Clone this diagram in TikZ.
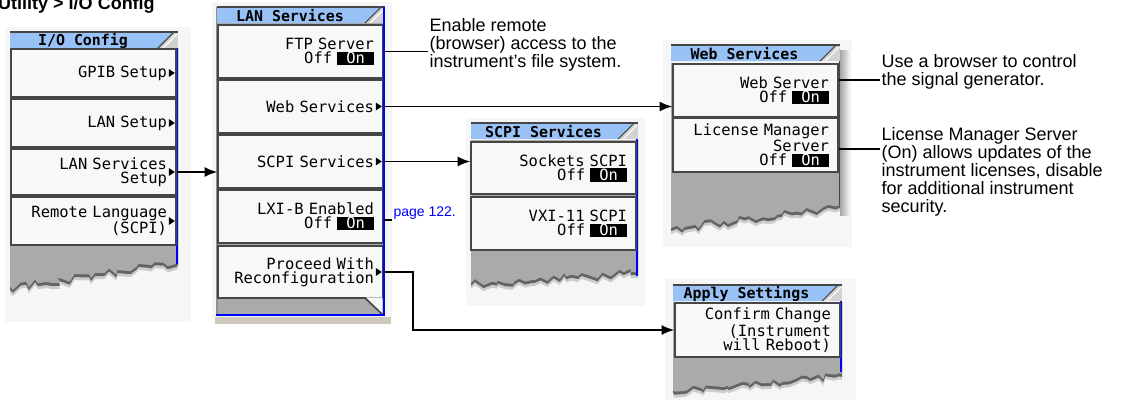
\documentclass[tikz,border=0pt]{standalone}
\usepackage{fontspec}
\setmainfont{Liberation Sans}
\newfontfamily\keymono{DejaVu Sans Mono}
\usepackage{tikz}
\usetikzlibrary{arrows.meta}
\usetikzlibrary{calc, decorations.pathmorphing}

\definecolor{titleblue}{RGB}{152,193,245}
\definecolor{titlegray}{RGB}{210,210,210}
\definecolor{frameblue}{RGB}{0,0,255}
\definecolor{keyfill}{RGB}{248,248,248}
\definecolor{keyline}{RGB}{70,70,70}
\definecolor{areagray}{RGB}{170,170,170}
\definecolor{tornshade}{RGB}{100,100,100}
\definecolor{panelbg}{RGB}{246,246,246}
\definecolor{barbeige}{RGB}{205,200,188}
\definecolor{linkblue}{RGB}{0,0,255}

\newcommand{\keyfont}{\keymono\fontsize{11.6}{10.5}\selectfont}
\newcommand{\titlefont}{\keymono\bfseries\fontsize{11.2}{12}\selectfont}
\newcommand{\notefont}{\fontsize{13.5}{13.6}\selectfont}
\newcommand{\onkey}{{\setlength{\fboxsep}{0pt}\colorbox{black}{\rule[-1.2pt]{0pt}{9.9pt}\makebox[27.5pt]{\textcolor{white}{On}}}}}

\tikzset{
  softkey/.style={draw=keyline, fill=keyfill, line width=1.2pt, minimum width=123.75pt,
    text width=110.25pt, align=right, inner xsep=6.75pt, inner ysep=0pt, font=\keyfont},
  titlelabel/.style={inner sep=0pt, font=\titlefont},
  note/.style={anchor=west, align=left, inner sep=1pt, font=\notefont},
  conn/.style={line width=1.1pt, -{Latex[length=9.5pt,width=7.5pt]}},
  callout/.style={line width=1.1pt},
  bluebar/.style={draw=frameblue, line width=1.6pt},
  torn/.style={decoration={random steps, segment length=4pt, amplitude=3pt}},
}

% title tab of a menu: name, left, right, top, text
\newcommand{\menutitle}[5]{%
  \fill[titlegray] (#2,#4) rectangle (#3,#4+16);
  \fill[titleblue] (#2,#4) -- (#3-4,#4) -- (#3-20,#4+16) -- (#2,#4+16) -- cycle;
  \draw[keyline, line width=0.8pt] (#3-4,#4) -- (#3-20,#4+16);
  \draw[white, line width=0.8pt] (#3-1,#4+2) -- (#3-15,#4+16);
  \draw[keyline, line width=0.8pt] (#2,#4) -- (#3,#4);
  \node[titlelabel] (#1) at ({(#2+#3-22)/2},#4+8.5) {#5};
}
% torn grey screen area: left, right, top, left end, right end, seed
\newcommand{\tornarea}[6]{%
  \pgfmathsetseed{#6}
  \fill[gray!40, torn] (#1,#3) -- (#2,#3) -- (#2,#5+6) decorate {-- (#1,#4+6)} -- cycle;
  \pgfmathsetseed{#6}
  \fill[tornshade, torn] (#1,#3) -- (#2,#3) -- (#2,#5+3) decorate {-- (#1,#4+3)} -- cycle;
  \pgfmathsetseed{#6}
  \fill[areagray, torn] (#1,#3) -- (#2,#3) -- (#2,#5) decorate {-- (#1,#4)} -- cycle;
}
% submenu triangle on a softkey
\newcommand{\softarrow}[1]{%
  \fill ([xshift=-6pt,yshift=3pt]#1.east) -- ([xshift=-1.5pt]#1.east) -- ([xshift=-6pt,yshift=-3pt]#1.east) -- cycle;
}

\begin{document}
\begin{tikzpicture}[x=0.75pt, y=-0.75pt]
  \useasboundingbox (0,0) rectangle (1121,400);
  \node[anchor=base east, inner sep=0pt, font=\bfseries\fontsize{13.5}{14}\selectfont] (menupath) at (155,9) {Utility > I/O Config};

  % I/O Config menu
  \fill[panelbg] (5,27) rectangle (191,322); % screen background
  \tornarea{10}{178}{48}{287}{262}{3}
  \draw[bluebar] (177,32) -- (177,264);
  \menutitle{iotitle}{10}{178}{32}{I/O Config}
  \node[softkey, minimum height=36pt] (gpib) at (93.5,73) {GPIB Setup};
  \node[softkey, minimum height=36pt] (lanset) at (93.5,123) {LAN Setup};
  \node[softkey, minimum height=34.5pt] (svcset) at (93.5,172) {LAN Services\\Setup};
  \node[softkey, minimum height=36pt] (remote) at (93.5,221) {Remote Language\\(SCPI)};
  \softarrow{gpib} \softarrow{lanset} \softarrow{svcset} \softarrow{remote}

  % LAN Services menu
  \fill[panelbg] (212,2) rectangle (392,318);
  \fill[barbeige] (215,317) rectangle (391,324);
  \fill[areagray] (217,23) rectangle (384,315);
  \draw[keyline!60, line width=1pt] (217,7) -- (217,315);
  \menutitle{lantitle}{217}{385}{7}{LAN Services}
  \node[softkey, minimum height=39.75pt] (ftp) at (300.5,51.5) {FTP Server\\Off \onkey};
  \node[softkey, minimum height=39.75pt] (websvc) at (300.5,106.5) {Web Services};
  \node[softkey, minimum height=39.75pt] (scpisvc) at (300.5,161.5) {SCPI Services};
  \node[softkey, minimum height=39.75pt] (lxi) at (300.5,216.5) {LXI-B Enabled\\Off \onkey};
  \node[softkey, minimum height=39pt] (proceed) at (300.5,272) {Proceed With\\Reconfiguration};
  \softarrow{websvc} \softarrow{scpisvc} \softarrow{proceed}
  \fill[keyfill] (366,297.3) -- (382.4,297.3) -- (382.4,314) -- cycle; % bevelled corner
  \draw[keyline, line width=1.2pt] (365,298) -- (383,315);
  \draw[bluebar] (384,7) -- (384,315) -- (216,315);

  % SCPI Services menu
  \fill[panelbg] (466,118) rectangle (645,306);
  \tornarea{471}{638}{140}{283}{272}{5}
  \draw[bluebar] (637,123) -- (637,276);
  \menutitle{scpititle}{471}{638}{123}{SCPI Services}
  \node[softkey, minimum height=39pt] (sockets) at (553.5,168) {Sockets SCPI\\Off \onkey};
  \node[softkey, minimum height=39.75pt] (vxi) at (553.5,223.5) {VXI-11 SCPI\\Off \onkey};

  % Web Services menu
  \fill[panelbg] (663,40) rectangle (852,247);
  \shade[left color=gray!70, right color=white] (840,50) rectangle (851,215);
  \tornarea{671}{840}{63}{228}{205}{7}
  \draw[keyline, line width=1pt] (839.5,45) -- (839.5,205);
  \menutitle{webtitle}{671}{840}{45}{Web Services}
  \node[softkey, minimum height=39.75pt] (websrv) at (755.5,90.5) {Web Server\\Off \onkey};
  \node[softkey, minimum height=40.5pt] (license) at (755.5,145) {License Manager\\Server\\Off \onkey};

  % Apply Settings menu
  \fill[panelbg] (665,279) rectangle (856,400);
  \tornarea{673}{842}{302}{390}{374}{9}
  \draw[bluebar] (841,285) -- (841,372);
  \menutitle{applytitle}{673}{842}{285}{Apply Settings}
  \node[softkey, minimum height=40.5pt] (confirm) at (757.5,330) {Confirm Change\\(Instrument\\will Reboot)};

  % menu links
  \draw[conn] (svcset.east) -- (svcset.east -| ftp.west);
  \draw[conn] (websvc.east) -- (websvc.east -| websrv.west);
  \draw[conn] (scpisvc.east) -- (scpisvc.east -| sockets.west);
  \draw[conn] (proceed.east) -- ++(29,0) |- (confirm.west);

  % notes
  \node[note] (ftpnote) at (428,45) {Enable remote\\(browser) access to the\\instrument’s file system.};
  \draw[callout] (ftp.east) -- (ftp.east -| ftpnote.west);
  \node[note, text=linkblue, font=\fontsize{10.5}{12}\selectfont] (pageref) at (392,213) {page 122.};
  \coordinate (lxi-tap) at ([yshift=-2.6pt]lxi.east);
  \draw[callout] (lxi-tap) -- (lxi-tap -| pageref.west);
  \node[note] (webnote) at (880,71.5) {Use a browser to control\\the signal generator.};
  \coordinate (websrv-tap) at ([yshift=7.9pt]websrv.east);
  \draw[callout] (websrv-tap) -- (websrv-tap -| webnote.west);
  \node[note] (licnote) at (880,172) {License Manager Server\\(On) allows updates of the\\instrument licenses, disable\\for additional instrument\\security.};
  \coordinate (license-tap) at ([yshift=-3pt]license.east);
  \draw[callout] (license-tap) -- (license-tap -| licnote.west);
\end{tikzpicture}
\end{document}
